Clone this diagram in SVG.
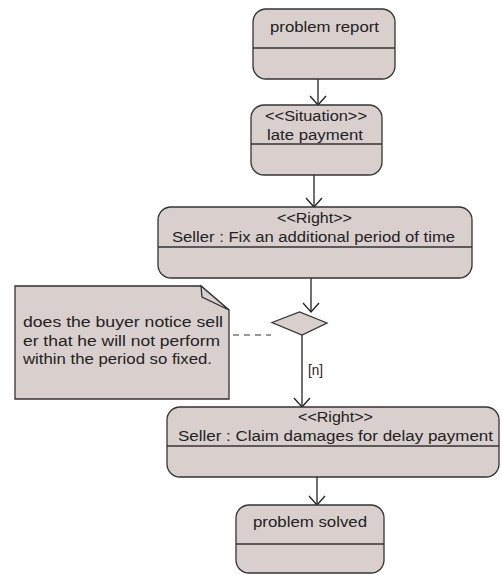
<svg xmlns="http://www.w3.org/2000/svg" width="502" height="575" viewBox="0 0 502 575">
<style>
.box{fill:#d9d0ce;stroke:#333;stroke-width:1.3}
.div{stroke:#333;stroke-width:1.3;fill:none}
.t{font-family:"Liberation Sans",Arial,sans-serif;font-size:14px;fill:#222}
.edge{stroke:#222;stroke-width:1.3;fill:none}
.dash{stroke:#333;stroke-width:1.2;fill:none;stroke-dasharray:6,5}
</style>
<defs>
<marker id="arr" viewBox="-10 -10 20 20" markerWidth="20" markerHeight="20" refX="0" refY="0" orient="auto" markerUnits="userSpaceOnUse" overflow="visible">
<path d="M-9,-8 L0,0 L-9,8" fill="none" stroke="#222" stroke-width="1.3"/>
</marker>
</defs>
<rect width="502" height="575" fill="#fff"/>
<g id="edges">
<line class="edge" x1="318" y1="79" x2="318" y2="105" marker-end="url(#arr)"/>
<line class="edge" x1="314" y1="175" x2="314" y2="207" marker-end="url(#arr)"/>
<line class="edge" x1="311" y1="278" x2="311" y2="312" marker-end="url(#arr)"/>
<line class="edge" x1="302" y1="335" x2="302" y2="407" marker-end="url(#arr)"/>
<line class="edge" x1="317" y1="477" x2="317" y2="505" marker-end="url(#arr)"/>
<line class="dash" x1="233" y1="335" x2="271" y2="335"/>
<text class="t" x="308" y="375" textLength="15" lengthAdjust="spacingAndGlyphs">[n]</text>
</g>
<g id="problem_report">
<rect class="box" x="253" y="9" width="142" height="70" rx="13" ry="13"/>
<line class="div" x1="253" y1="48" x2="395" y2="48"/>
<text class="t" x="270" y="32" textLength="109" lengthAdjust="spacingAndGlyphs">problem report</text>
</g>
<g id="late_payment">
<rect class="box" x="251" y="105" width="131" height="70" rx="13" ry="13"/>
<line class="div" x1="251" y1="144" x2="382" y2="144"/>
<text class="t" x="265" y="121" textLength="102" lengthAdjust="spacingAndGlyphs">&lt;&lt;Situation&gt;&gt;</text>
<text class="t" x="267" y="140" textLength="96" lengthAdjust="spacingAndGlyphs">late payment</text>
</g>
<g id="fix_period">
<rect class="box" x="158" y="207" width="314" height="71" rx="13" ry="13"/>
<line class="div" x1="158" y1="247" x2="472" y2="247"/>
<text class="t" x="277" y="223" textLength="75" lengthAdjust="spacingAndGlyphs">&lt;&lt;Right&gt;&gt;</text>
<text class="t" x="172" y="242" textLength="283" lengthAdjust="spacingAndGlyphs">Seller : Fix an additional period of time</text>
</g>
<g id="decision">
<polygon class="box" points="272,322.5 299.5,312 327,323 302,335"/>
</g>
<g id="note">
<polygon class="box" points="15,286 201,286 229,310 229,399 15,399"/>
<polygon class="box" points="201,286 202,297 229,310"/>
<text class="t" x="23" y="327" textLength="200" lengthAdjust="spacingAndGlyphs">does the buyer notice sell</text>
<text class="t" x="23" y="345.5" textLength="197" lengthAdjust="spacingAndGlyphs">er that he will not perform</text>
<text class="t" x="23" y="364" textLength="189" lengthAdjust="spacingAndGlyphs">within the period so fixed.</text>
</g>
<g id="claim_damages">
<rect class="box" x="167" y="407" width="332" height="70" rx="13" ry="13"/>
<line class="div" x1="167" y1="446" x2="499" y2="446"/>
<text class="t" x="298" y="422" textLength="75" lengthAdjust="spacingAndGlyphs">&lt;&lt;Right&gt;&gt;</text>
<text class="t" x="178" y="441" textLength="315" lengthAdjust="spacingAndGlyphs">Seller : Claim damages for delay payment</text>
</g>
<g id="problem_solved">
<rect class="box" x="236" y="505" width="148" height="68" rx="13" ry="13"/>
<line class="div" x1="236" y1="544" x2="384" y2="544"/>
<text class="t" x="253" y="527" textLength="114" lengthAdjust="spacingAndGlyphs">problem solved</text>
</g>
</svg>
